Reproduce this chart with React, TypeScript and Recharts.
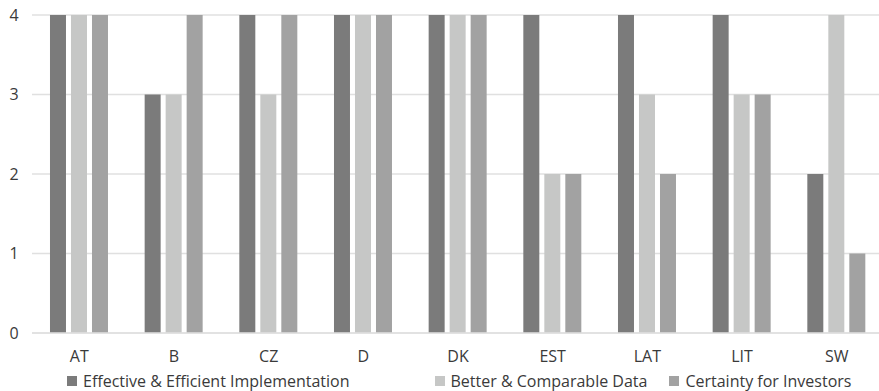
import { BarChart, Bar, XAxis, YAxis, CartesianGrid, Legend } from 'recharts';

const countries = ['AT', 'B', 'CZ', 'D', 'DK', 'EST', 'LAT', 'LIT', 'SW'];
const implementation = [4, 3, 4, 4, 4, 4, 4, 4, 2];
const comparableData = [4, 3, 3, 4, 4, 2, 3, 3, 4];
const investors = [4, 4, 4, 4, 4, 2, 2, 3, 1];
const yTicks = [0, 1, 2, 3, 4];

const series = [
  { key: 'implementation', name: 'Effective & Efficient Implementation', color: '#7b7b7b' },
  { key: 'comparableData', name: 'Better & Comparable Data', color: '#c6c7c6' },
  { key: 'investors', name: 'Certainty for Investors', color: '#a2a2a2' },
];

const data = countries.map((c, i) => ({
  country: c,
  implementation: implementation[i],
  comparableData: comparableData[i],
  investors: investors[i],
}));

const font = '"Open Sans", sans-serif';
const textColor = '#3a3a3a';

function renderLegend() {
  const gaps = [85, 22, 0];
  return (
    <div
      style={{
        display: 'flex',
        paddingLeft: 67,
        fontFamily: font,
        fontSize: 16,
        lineHeight: '20px',
        height: 20,
        color: textColor,
        whiteSpace: 'nowrap',
      }}
    >
      {series.map((s, i) => (
        <div key={s.key} style={{ display: 'flex', alignItems: 'center', marginRight: gaps[i] }}>
          <span style={{ width: 10, height: 10, background: s.color, marginRight: 6, display: 'inline-block' }} />
          <span>{s.name}</span>
        </div>
      ))}
    </div>
  );
}

export default function App() {
  return (
    <div style={{ position: 'absolute', left: 0, top: 0, width: 879, height: 391, background: '#fff', overflow: 'hidden' }}>
      <BarChart
        width={879}
        height={391}
        data={data}
        margin={{ top: 15, right: -5, bottom: 0, left: 0 }}
        barCategoryGap="19%"
        barGap={5}
      >
        <CartesianGrid vertical={false} stroke="#e0e0e0" strokeWidth={1.5} />
        <XAxis
          dataKey="country"
          axisLine={{ stroke: '#e0e0e0', strokeWidth: 1.5 }}
          tickLine={false}
          tick={{ fontSize: 16, fill: textColor, fontFamily: font }}
          tickMargin={12}
          height={38}
        />
        <YAxis
          domain={[0, 4]}
          ticks={yTicks}
          axisLine={false}
          tickLine={false}
          tick={{ fontSize: 16, fill: textColor, fontFamily: font, textAnchor: 'middle' }}
          width={32}
          dx={-10}
        />
        <Legend content={renderLegend} verticalAlign="bottom" height={20} />
        {series.map((s) => (
          <Bar
            key={s.key}
            dataKey={s.key}
            name={s.name}
            fill={s.color}
            isAnimationActive={false}
          />
        ))}
      </BarChart>
    </div>
  );
}
